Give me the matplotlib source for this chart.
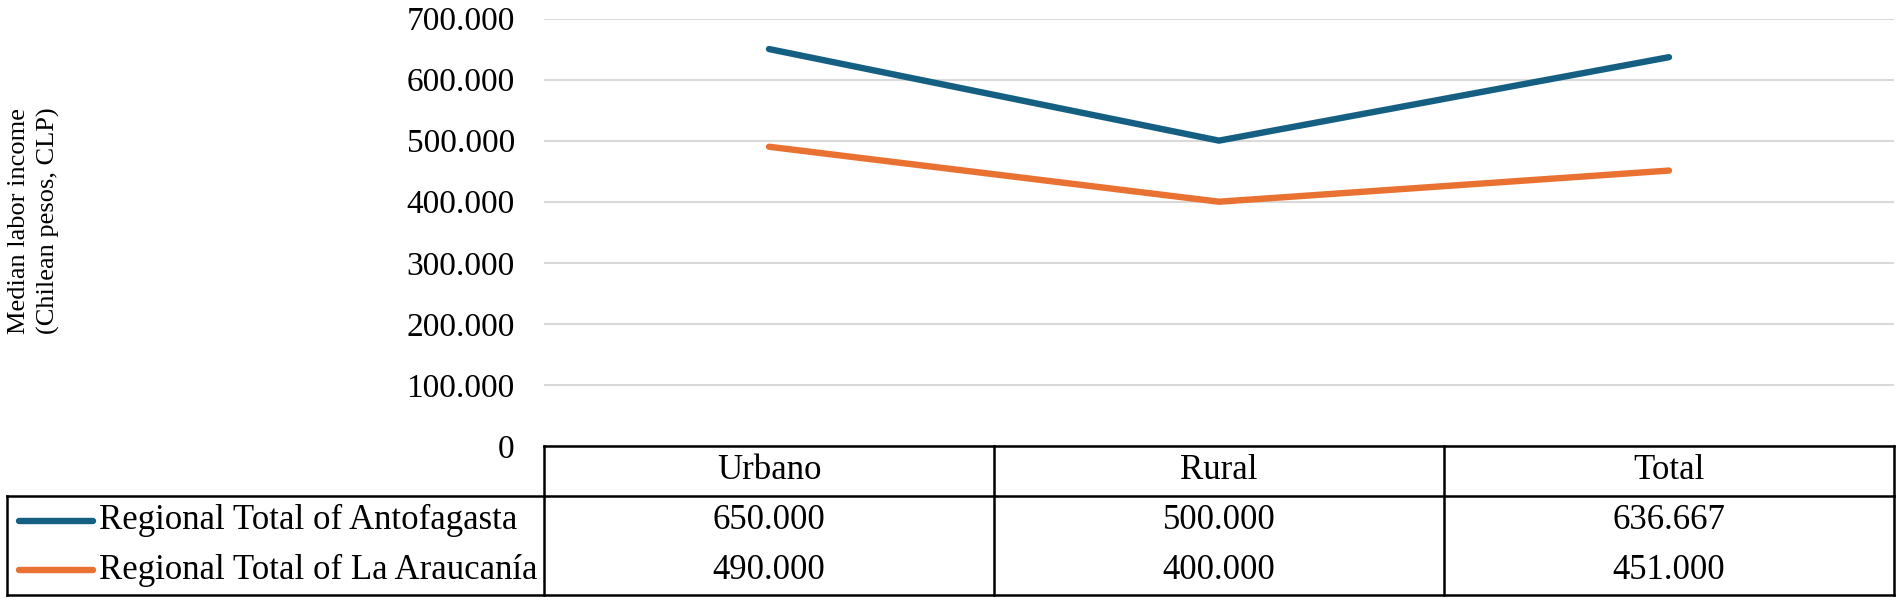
import matplotlib
matplotlib.use("Agg")
import matplotlib.pyplot as plt
import matplotlib.transforms as mtransforms
from matplotlib.ticker import FuncFormatter

# datos
categorias = ["Urbano", "Rural", "Total"]
antofagasta = [650000, 500000, 636667]
araucania = [490000, 400000, 451000]
series_nombres = ["Regional Total of Antofagasta", "Regional Total of La Araucanía"]
colores = ["#156082", "#E97132"]
yticks = [0, 100000, 200000, 300000, 400000, 500000, 600000, 700000]

plt.rcParams['font.family'] = ['Liberation Serif', 'DejaVu Serif']

W, H = 1902, 604
fig = plt.figure(figsize=(W / 100, H / 100), dpi=100)

# area del grafico (en pixeles de la figura)
x0, x1 = 544, 1894
y_top, y_zero = 18.5, 446
ax = fig.add_axes([x0 / W, 1 - y_zero / H, (x1 - x0) / W, (y_zero - y_top) / H])

x = list(range(len(categorias)))
for vals, c in zip([antofagasta, araucania], colores):
    ax.plot(x, vals, color=c, lw=4.6, solid_capstyle='round')

ax.set_xlim(-0.5, len(categorias) - 0.5)
ax.set_ylim(0, 700000)
ax.set_yticks(yticks)
ax.yaxis.set_major_formatter(FuncFormatter(lambda v, p: f"{int(v):,}".replace(",", ".")))
ax.tick_params(axis='y', length=0, labelsize=24, pad=21)
ax.set_xticks([])
for s in ax.spines.values():
    s.set_visible(False)
ax.grid(axis='y', color='#d9d9d9', lw=1.5)
ax.set_axisbelow(True)

# ylabel
fig.text(34 / W, 1 - 221 / H, "Median labor income\n(Chilean pesos, CLP)", rotation=90,
         ha='center', va='center', fontsize=19, linespacing=1.4, multialignment='center')

# tabla de datos debajo
axh = (y_zero - y_top)
rh = 49.7 / axh  # alto de fila en fraccion del eje
tr_d = ax.get_xaxis_transform()
tr_f = mtransforms.blended_transform_factory(fig.transFigure, ax.transAxes)
lw = 1.8
xl = 7 / W
kw = dict(color='black', lw=lw, clip_on=False, solid_capstyle='projecting')

ax.plot([-0.5, 2.5], [0, 0], transform=tr_d, **kw)
ax.plot([xl, x1 / W], [-rh, -rh], transform=tr_f, **kw)
ax.plot([xl, x1 / W], [-3 * rh, -3 * rh], transform=tr_f, **kw)
ax.plot([xl, xl], [-rh, -3 * rh], transform=tr_f, **kw)
for xv in [-0.5, 0.5, 1.5, 2.5]:
    ax.plot([xv, xv], [0, -3 * rh], transform=tr_d, **kw)

for i, cat in enumerate(categorias):
    ax.text(i, -0.5 * rh, cat, transform=tr_d, ha='center', va='center', fontsize=25)

for r, (nombre, vals, c) in enumerate(zip(series_nombres, [antofagasta, araucania], colores)):
    yc = -(1.5 + r) * rh
    ax.plot([19 / W, 93 / W], [yc, yc], transform=tr_f, color=c, lw=4.6,
            solid_capstyle='round', clip_on=False)
    ax.text(99 / W, yc, nombre, transform=tr_f, ha='left', va='center', fontsize=25)
    for i, v in enumerate(vals):
        ax.text(i, yc, f"{v:,}".replace(",", "."), transform=tr_d,
                ha='center', va='center', fontsize=25)

fig.savefig("out.png", dpi=100)
